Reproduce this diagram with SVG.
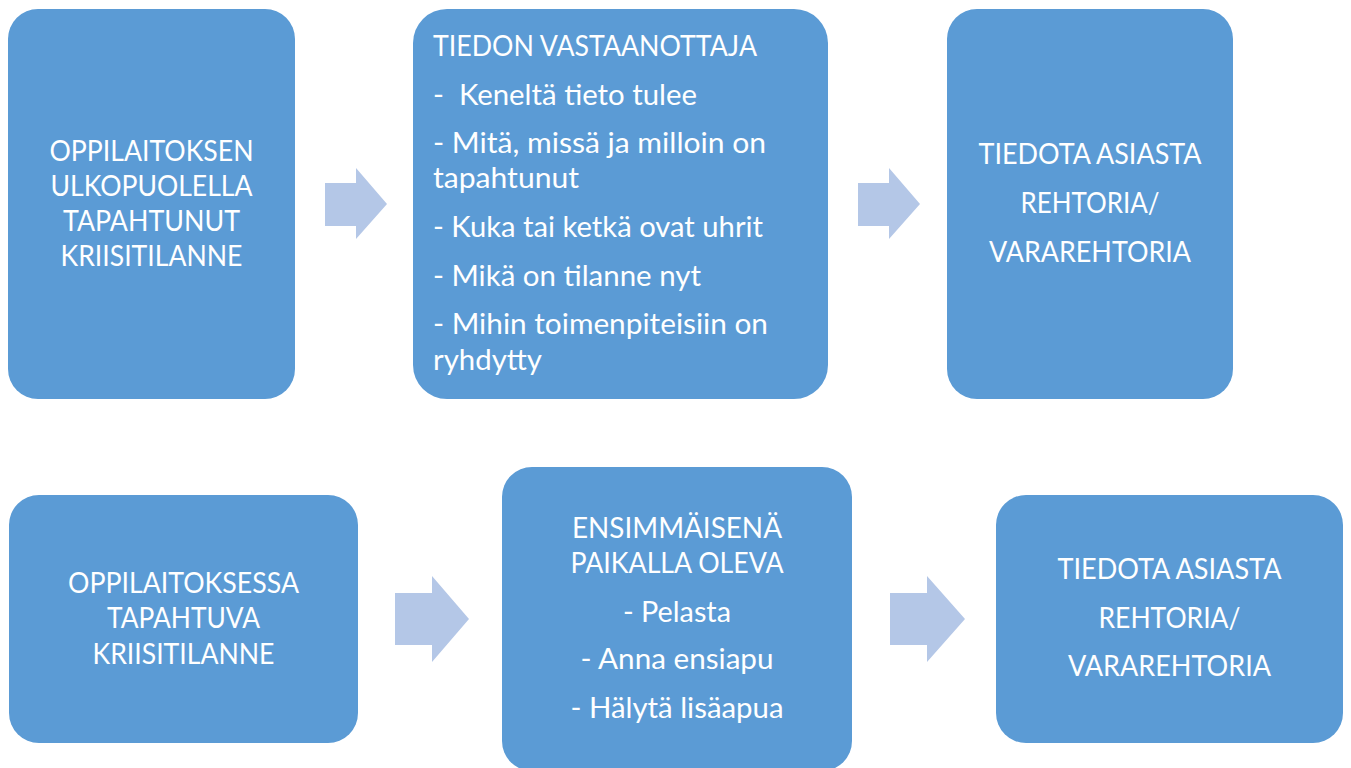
<svg xmlns="http://www.w3.org/2000/svg" width="1351" height="768" viewBox="0 0 1351 768">
<style>
.box{fill:#5B9BD5}
.arr{fill:#B4C7E7}
text{font-family:Lato,"Liberation Sans",Arial,sans-serif;font-size:28.5px;fill:#FFFFFF}
.c{text-anchor:middle}
</style>
<rect width="1351" height="768" fill="#FFFFFF"/>
<g id="connectors">
<polygon class="arr" points="325,183 356,183 356,168 387,204 356,239 356,226 325,226"/>
<polygon class="arr" points="858,183 889,183 889,168 920,204 889,239 889,226 858,226"/>
<polygon class="arr" points="395,593 432,593 432,576 469,619 432,662 432,645 395,645"/>
<polygon class="arr" points="890,593 927,593 927,576 965,619 927,662 927,645 890,645"/>
</g>
<g id="node-ulkopuolella">
<rect class="box" x="8" y="9" width="287" height="390" rx="30"/>
<text class="c" x="151.5" y="161" textLength="204" lengthAdjust="spacingAndGlyphs">OPPILAITOKSEN</text>
<text class="c" x="151.5" y="196" textLength="202" lengthAdjust="spacingAndGlyphs">ULKOPUOLELLA</text>
<text class="c" x="151.5" y="231" textLength="177" lengthAdjust="spacingAndGlyphs">TAPAHTUNUT</text>
<text class="c" x="151.5" y="266" textLength="182" lengthAdjust="spacingAndGlyphs">KRIISITILANNE</text>
</g>
<g id="node-vastaanottaja">
<rect class="box" x="413" y="9" width="415" height="390" rx="34"/>
<text x="433" y="56" textLength="324" lengthAdjust="spacingAndGlyphs">TIEDON VASTAANOTTAJA</text>
<text x="433" y="105" textLength="264" lengthAdjust="spacingAndGlyphs" xml:space="preserve">-  Keneltä tieto tulee</text>
<text x="433" y="153" textLength="333" lengthAdjust="spacingAndGlyphs">- Mitä, missä ja milloin on</text>
<text x="433" y="188" textLength="146" lengthAdjust="spacingAndGlyphs">tapahtunut</text>
<text x="433" y="237" textLength="330" lengthAdjust="spacingAndGlyphs">- Kuka tai ketkä ovat uhrit</text>
<text x="433" y="286" textLength="268" lengthAdjust="spacingAndGlyphs">- Mikä on tilanne nyt</text>
<text x="433" y="334" textLength="335" lengthAdjust="spacingAndGlyphs">- Mihin toimenpiteisiin on</text>
<text x="433" y="370" textLength="109" lengthAdjust="spacingAndGlyphs">ryhdytty</text>
</g>
<g id="node-tiedota-1">
<rect class="box" x="947" y="9" width="286" height="390" rx="30"/>
<text class="c" x="1090" y="164" textLength="223" lengthAdjust="spacingAndGlyphs">TIEDOTA ASIASTA</text>
<text class="c" x="1090" y="213" textLength="139" lengthAdjust="spacingAndGlyphs">REHTORIA/</text>
<text class="c" x="1090" y="262" textLength="202" lengthAdjust="spacingAndGlyphs">VARAREHTORIA</text>
</g>
<g id="node-oppilaitoksessa">
<rect class="box" x="9" y="495" width="349" height="248" rx="30"/>
<text class="c" x="183.5" y="593" textLength="231" lengthAdjust="spacingAndGlyphs">OPPILAITOKSESSA</text>
<text class="c" x="183.5" y="628" textLength="153" lengthAdjust="spacingAndGlyphs">TAPAHTUVA</text>
<text class="c" x="183.5" y="664" textLength="182" lengthAdjust="spacingAndGlyphs">KRIISITILANNE</text>
</g>
<g id="node-ensimmaisena">
<rect class="box" x="502" y="467" width="350" height="304" rx="30"/>
<text class="c" x="677" y="538" textLength="210" lengthAdjust="spacingAndGlyphs">ENSIMMÄISENÄ</text>
<text class="c" x="677" y="573" textLength="213" lengthAdjust="spacingAndGlyphs">PAIKALLA OLEVA</text>
<text class="c" x="677" y="622" textLength="108" lengthAdjust="spacingAndGlyphs">- Pelasta</text>
<text class="c" x="677" y="669" textLength="193" lengthAdjust="spacingAndGlyphs">- Anna ensiapu</text>
<text class="c" x="677" y="718" textLength="213" lengthAdjust="spacingAndGlyphs">- Hälytä lisäapua</text>
</g>
<g id="node-tiedota-2">
<rect class="box" x="996" y="495" width="347" height="248" rx="30"/>
<text class="c" x="1169.5" y="579" textLength="224" lengthAdjust="spacingAndGlyphs">TIEDOTA ASIASTA</text>
<text class="c" x="1169.5" y="628" textLength="142" lengthAdjust="spacingAndGlyphs">REHTORIA/</text>
<text class="c" x="1169.5" y="676" textLength="203" lengthAdjust="spacingAndGlyphs">VARAREHTORIA</text>
</g>
</svg>
